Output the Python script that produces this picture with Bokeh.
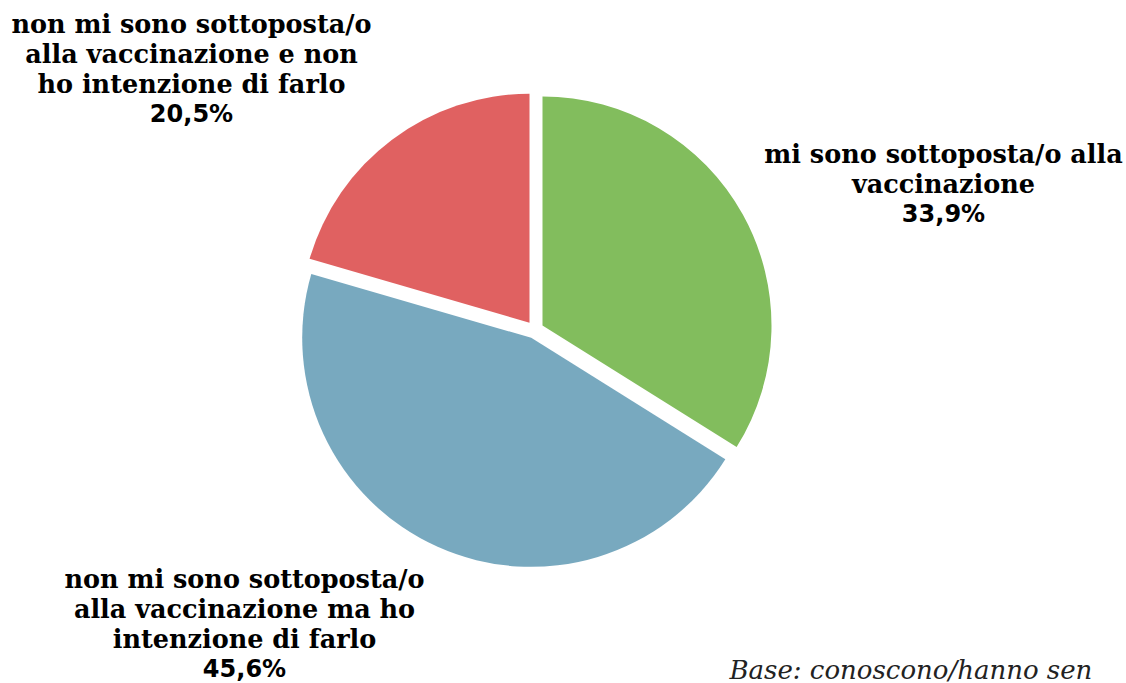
import math
from bokeh.plotting import figure
from bokeh.models import Range1d, ColumnDataSource
from bokeh.core.properties import value
from bokeh.embed import file_html
from bokeh.resources import INLINE

# ---- data ----
categories = [
    "mi sono sottoposta/o alla vaccinazione",
    "non mi sono sottoposta/o alla vaccinazione ma ho intenzione di farlo",
    "non mi sono sottoposta/o alla vaccinazione e non ho intenzione di farlo",
]
values = [33.9, 45.6, 20.5]
pct_labels = ["33,9%", "45,6%", "20,5%"]
label_lines = [
    ["mi sono sottoposta/o alla", "vaccinazione"],
    ["non mi sono sottoposta/o", "alla vaccinazione ma ho", "intenzione di farlo"],
    ["non mi sono sottoposta/o", "alla vaccinazione e non", "ho intenzione di farlo"],
]
colors = ["#82BD5D", "#78A9BF", "#E06161"]
base_note = "Base: conoscono/hanno sen"

W, H = 1126, 683
def X(px):  # page pixel -> data x
    return px
def Y(py):  # page pixel -> data y
    return H - py

p = figure(width=W, height=H, output_backend="svg", toolbar_location=None,
           x_range=Range1d(0, W), y_range=Range1d(0, H), min_border=0)
p.axis.visible = False
p.grid.visible = False
p.outline_line_color = None
p.background_fill_color = "white"

# pie geometry
cx, cy = X(534.3), Y(329.3)
R = 229
d = 8.8
total = sum(values)
starts, ends, xs, ys = [], [], [], []
a = math.pi / 2
for v in values:
    sweep = 2 * math.pi * v / total
    s, e = a, a - sweep
    m = (s + e) / 2
    starts.append(s)
    ends.append(e)
    xs.append(cx + d * math.cos(m))
    ys.append(cy + d * math.sin(m))
    a = e

src = ColumnDataSource(dict(x=xs, y=ys, start=starts, end=ends, color=colors, cat=categories))
p.wedge(x="x", y="y", radius=R, radius_units="screen", start_angle="start", end_angle="end",
        direction="clock", fill_color="color", line_color=None, source=src)

# labels: (center x, first line center y) in page px
label_pos = [(943, 153), (244, 578), (191, 23)]
line_h = 30
for i, (lx, ly) in enumerate(label_pos):
    lines = label_lines[i]
    ys_l = [Y(ly + k * line_h) for k in range(len(lines))]
    p.text(x=[X(lx)] * len(lines), y=ys_l, text=lines, text_align="center",
           text_baseline="middle", text_font=value("DejaVu Serif"), text_font_style="bold",
           text_font_size="25.5px", text_color="black")
    p.text(x=[X(lx)], y=[Y(ly + len(lines) * line_h)], text=[pct_labels[i]], text_align="center",
           text_baseline="middle", text_font=value("DejaVu Sans"), text_font_style="bold",
           text_font_size="24px", text_color="black")

p.text(x=[X(729)], y=[Y(669)], text=[base_note], text_align="left", text_baseline="alphabetic",
       text_font=value("DejaVu Serif"), text_font_style="italic", text_font_size="26px",
       text_color="#222222")

open("out.html", "w").write(file_html(p, INLINE))
